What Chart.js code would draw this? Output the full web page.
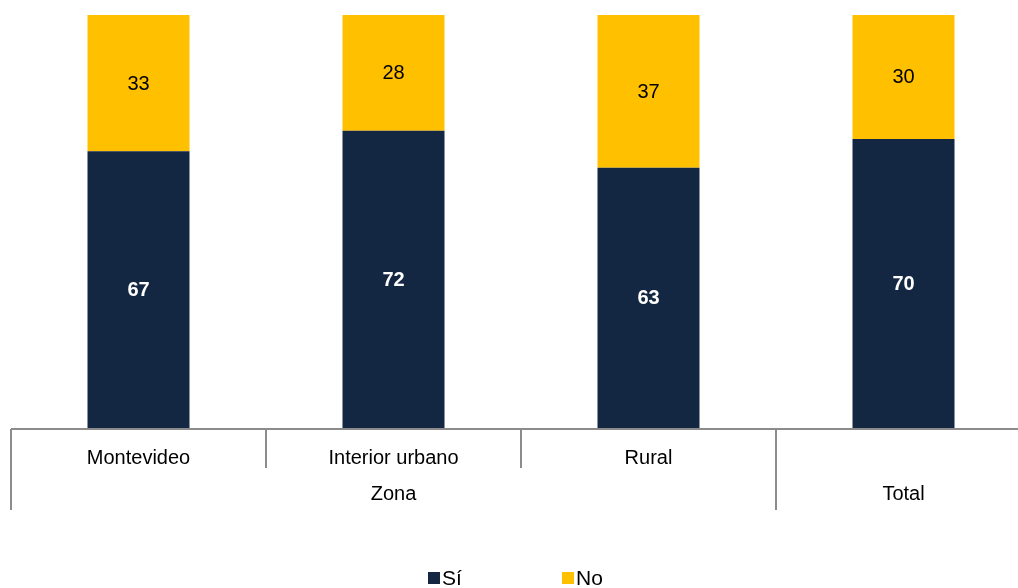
<!DOCTYPE html>
<html>
<head>
<meta charset="utf-8">
<script src="https://cdn.jsdelivr.net/npm/chart.js@4/dist/chart.umd.min.js"></script>
<style>
html,body{margin:0;padding:0;background:#fff;overflow:hidden;width:1018px;height:588px;}
canvas{display:block;}
</style>
</head>
<body>
<canvas id="c" width="1040" height="588"></canvas>
<script>
const categories = ['Montevideo', 'Interior urbano', 'Rural', 'Total'];
const tickLabels = ['Montevideo', 'Interior urbano', 'Rural', ''];
const groupLabels = ['Zona', 'Total'];
const groupSpans = [3, 1];
const siValues = [67, 72, 63, 70];
const noValues = [33, 28, 37, 30];
const seriesNames = ['Sí', 'No'];

const NAVY = '#132743';
const GOLD = '#FFC000';
const FONT = '"Liberation Sans", Arial, sans-serif';

const labelsPlugin = {
  id: 'valueLabels',
  afterDatasetsDraw(chart) {
    const ctx = chart.ctx;
    ctx.save();
    ctx.textAlign = 'center';
    ctx.textBaseline = 'middle';
    chart.data.datasets.forEach((ds, i) => {
      const meta = chart.getDatasetMeta(i);
      meta.data.forEach((bar, j) => {
        const cy = (bar.y + bar.base) / 2;
        if (i === 0) { ctx.fillStyle = '#fff'; ctx.font = 'bold 20px ' + FONT; }
        else { ctx.fillStyle = '#000'; ctx.font = '20px ' + FONT; }
        ctx.fillText(String(ds.data[j]), bar.x, cy + 1);
      });
    });
    ctx.restore();
  }
};

const axisPlugin = {
  id: 'multiAxis',
  afterDraw(chart) {
    const ctx = chart.ctx;
    const x = chart.scales.x;
    const area = chart.chartArea;
    const n = categories.length;
    const cw = (area.right - area.left) / n;
    const yAxis = area.bottom + 1;
    ctx.save();
    ctx.strokeStyle = '#8c8c8c';
    ctx.lineWidth = 2;
    ctx.beginPath();
    ctx.moveTo(area.left, yAxis);
    ctx.lineTo(area.right, yAxis);
    ctx.stroke();
    const longIdx = [0];
    let acc = 0;
    groupSpans.forEach(s => { acc += s; longIdx.push(acc); });
    for (let i = 0; i <= n; i++) {
      const bx = area.left + i * cw;
      const isLong = longIdx.includes(i);
      ctx.beginPath();
      ctx.moveTo(bx, yAxis);
      ctx.lineTo(bx, isLong ? yAxis + 81 : yAxis + 39);
      ctx.stroke();
    }
    ctx.fillStyle = '#000';
    ctx.font = '20px ' + FONT;
    ctx.textAlign = 'center';
    ctx.textBaseline = 'middle';
    tickLabels.forEach((t, i) => {
      ctx.fillText(t, x.getPixelForValue(i), yAxis + 29);
    });
    let start = 0;
    groupLabels.forEach((g, k) => {
      const end = start + groupSpans[k] - 1;
      let gx;
      if (groupSpans[k] === 1) gx = x.getPixelForValue(start);
      else gx = (area.left + start * cw + area.left + (end + 1) * cw) / 2;
      ctx.fillText(g, gx, yAxis + 65);
      start = end + 1;
    });
    const colors = [NAVY, GOLD];
    const lx = [428, 562];
    const ly = 578;
    ctx.textAlign = 'left';
    ctx.font = '21px ' + FONT;
    seriesNames.forEach((s, i) => {
      ctx.fillStyle = colors[i];
      ctx.fillRect(lx[i], ly - 6, 12, 12);
      ctx.fillStyle = '#000';
      ctx.fillText(s, lx[i] + 14, ly + 1);
    });
    ctx.restore();
  }
};

new Chart(document.getElementById('c'), {
  type: 'bar',
  data: {
    labels: categories,
    datasets: [
      { label: seriesNames[0], data: siValues, backgroundColor: NAVY, barPercentage: 0.4, categoryPercentage: 1 },
      { label: seriesNames[1], data: noValues, backgroundColor: GOLD, barPercentage: 0.4, categoryPercentage: 1 }
    ]
  },
  options: {
    responsive: false,
    animation: false,
    layout: { padding: { left: 11, right: 9, top: 15, bottom: 160 } },
    plugins: { legend: { display: false }, tooltip: { enabled: false } },
    scales: {
      x: { stacked: true, display: false },
      y: { stacked: true, display: false, min: 0, max: 100 }
    }
  },
  plugins: [labelsPlugin, axisPlugin]
});
</script>
</body>
</html>
